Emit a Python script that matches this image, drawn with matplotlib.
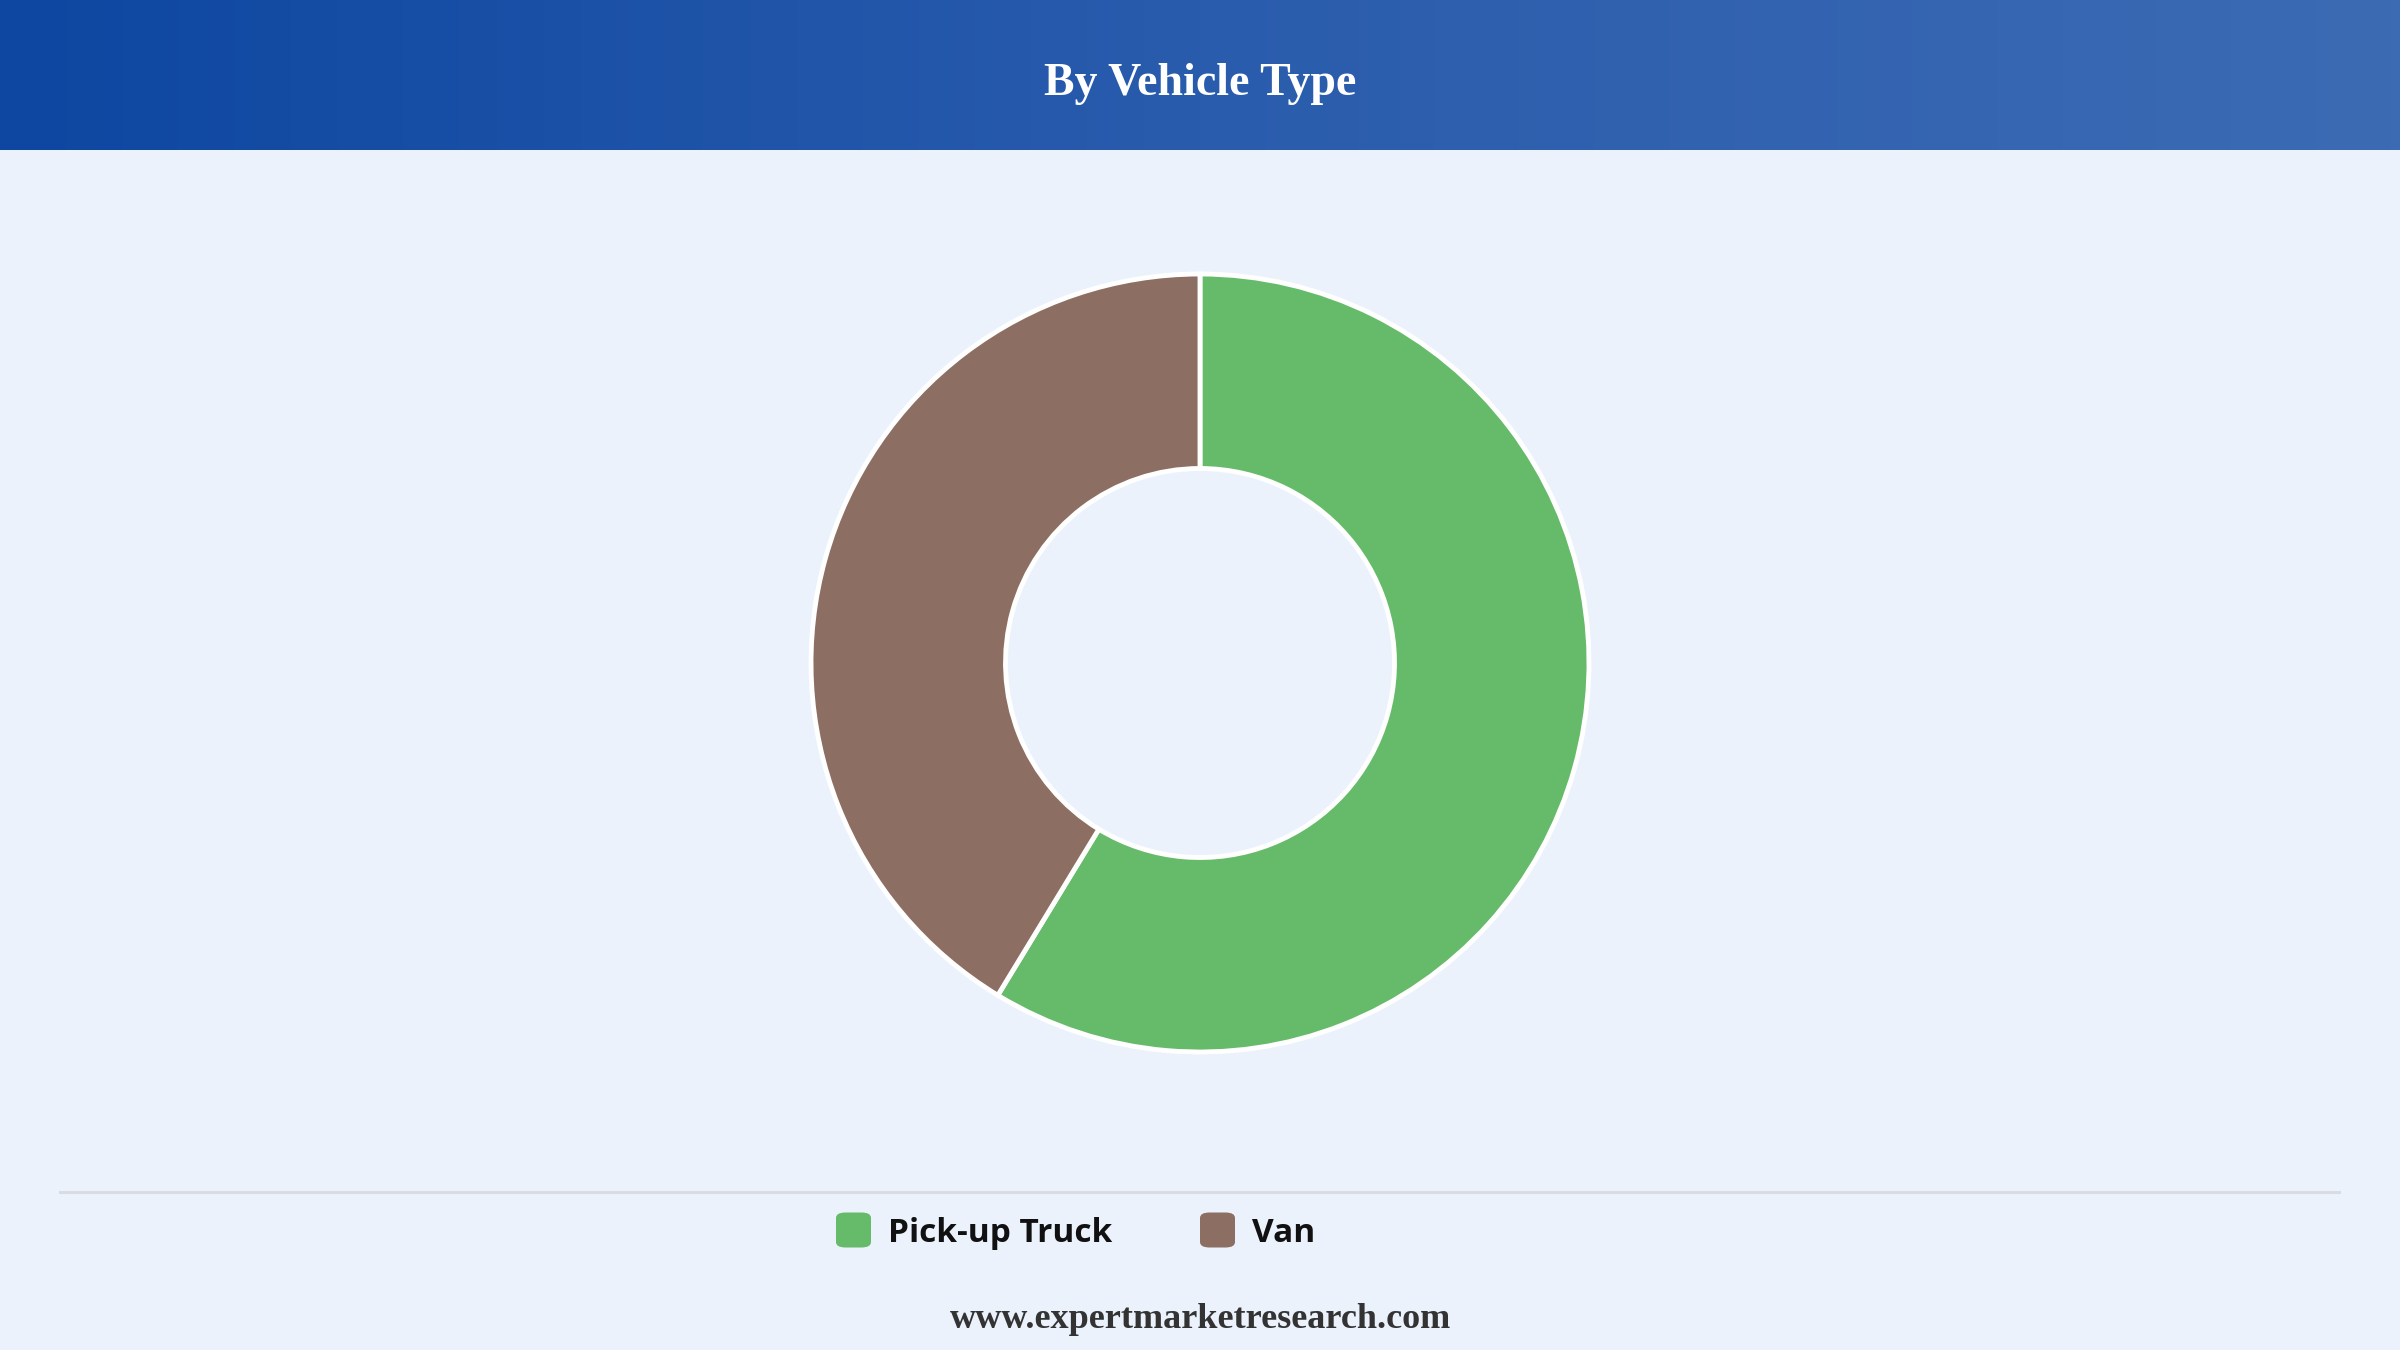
import numpy as np
import matplotlib
matplotlib.use("Agg")
import matplotlib.pyplot as plt
from matplotlib.patches import FancyBboxPatch

# data
categories = ["Pick-up Truck", "Van"]
shares = [58.7, 41.3]
colors = ["#66bb6a", "#8d6e63"]
title = "By Vehicle Type"
source = "www.expertmarketresearch.com"

W, H = 2400, 1350
bg = "#ebf2fc"

fig = plt.figure(figsize=(W / 100, H / 100), dpi=100, facecolor=bg)

# header band with gradient
hdr = fig.add_axes([0, 1 - 150 / H, 1, 150 / H])
grad = np.linspace(0, 1, 256).reshape(1, -1)
cmap = matplotlib.colors.LinearSegmentedColormap.from_list("hdr", ["#0d47a1", "#2a5cad", "#3c6bb4"])
hdr.imshow(grad, aspect="auto", cmap=cmap, extent=[0, 1, 0, 1])
hdr.set_axis_off()
hdr.text(0.5, 0.44, title, ha="center", va="center", color="white",
         fontsize=33, fontweight="bold", family="Liberation Serif")

# donut
cx, cy, r = 1200, 663, 389
ax = fig.add_axes([(cx - r) / W, (H - cy - r) / H, 2 * r / W, 2 * r / H])
ax.set_facecolor(bg)
ax.pie(shares, colors=colors, startangle=90, counterclock=False, radius=1,
       wedgeprops=dict(width=0.5, edgecolor="white", linewidth=3.5))
ax.set_xlim(-1.0, 1.0)
ax.set_ylim(-1.0, 1.0)
ax.set_aspect("equal")
ax.set_axis_off()

# separator line
fig.add_artist(plt.Line2D([60 / W, 2339 / W], [1 - 1192 / H, 1 - 1192 / H],
                          color="#d9dde3", linewidth=2.2))

# legend
leg_x = [836, 1200]
box = 35
ly = 1230
for x0, lab, col in zip(leg_x, categories, colors):
    p = FancyBboxPatch((x0 / W, 1 - (ly + box / 2) / H), box / W, box / H,
                       boxstyle="round,pad=0,rounding_size=0.004",
                       transform=fig.transFigure, facecolor=col, edgecolor="none")
    fig.add_artist(p)
    fig.text((x0 + box + 17) / W, 1 - ly / H, lab, ha="left", va="center_baseline",
             fontsize=24, fontweight="bold", family="Open Sans", color="#111111")

fig.text(0.5, 1 - 1320 / H, source, ha="center", va="center",
         fontsize=26, fontweight="bold", family="Liberation Serif", color="#333333")

fig.savefig("out.png", dpi=100, facecolor=bg)
